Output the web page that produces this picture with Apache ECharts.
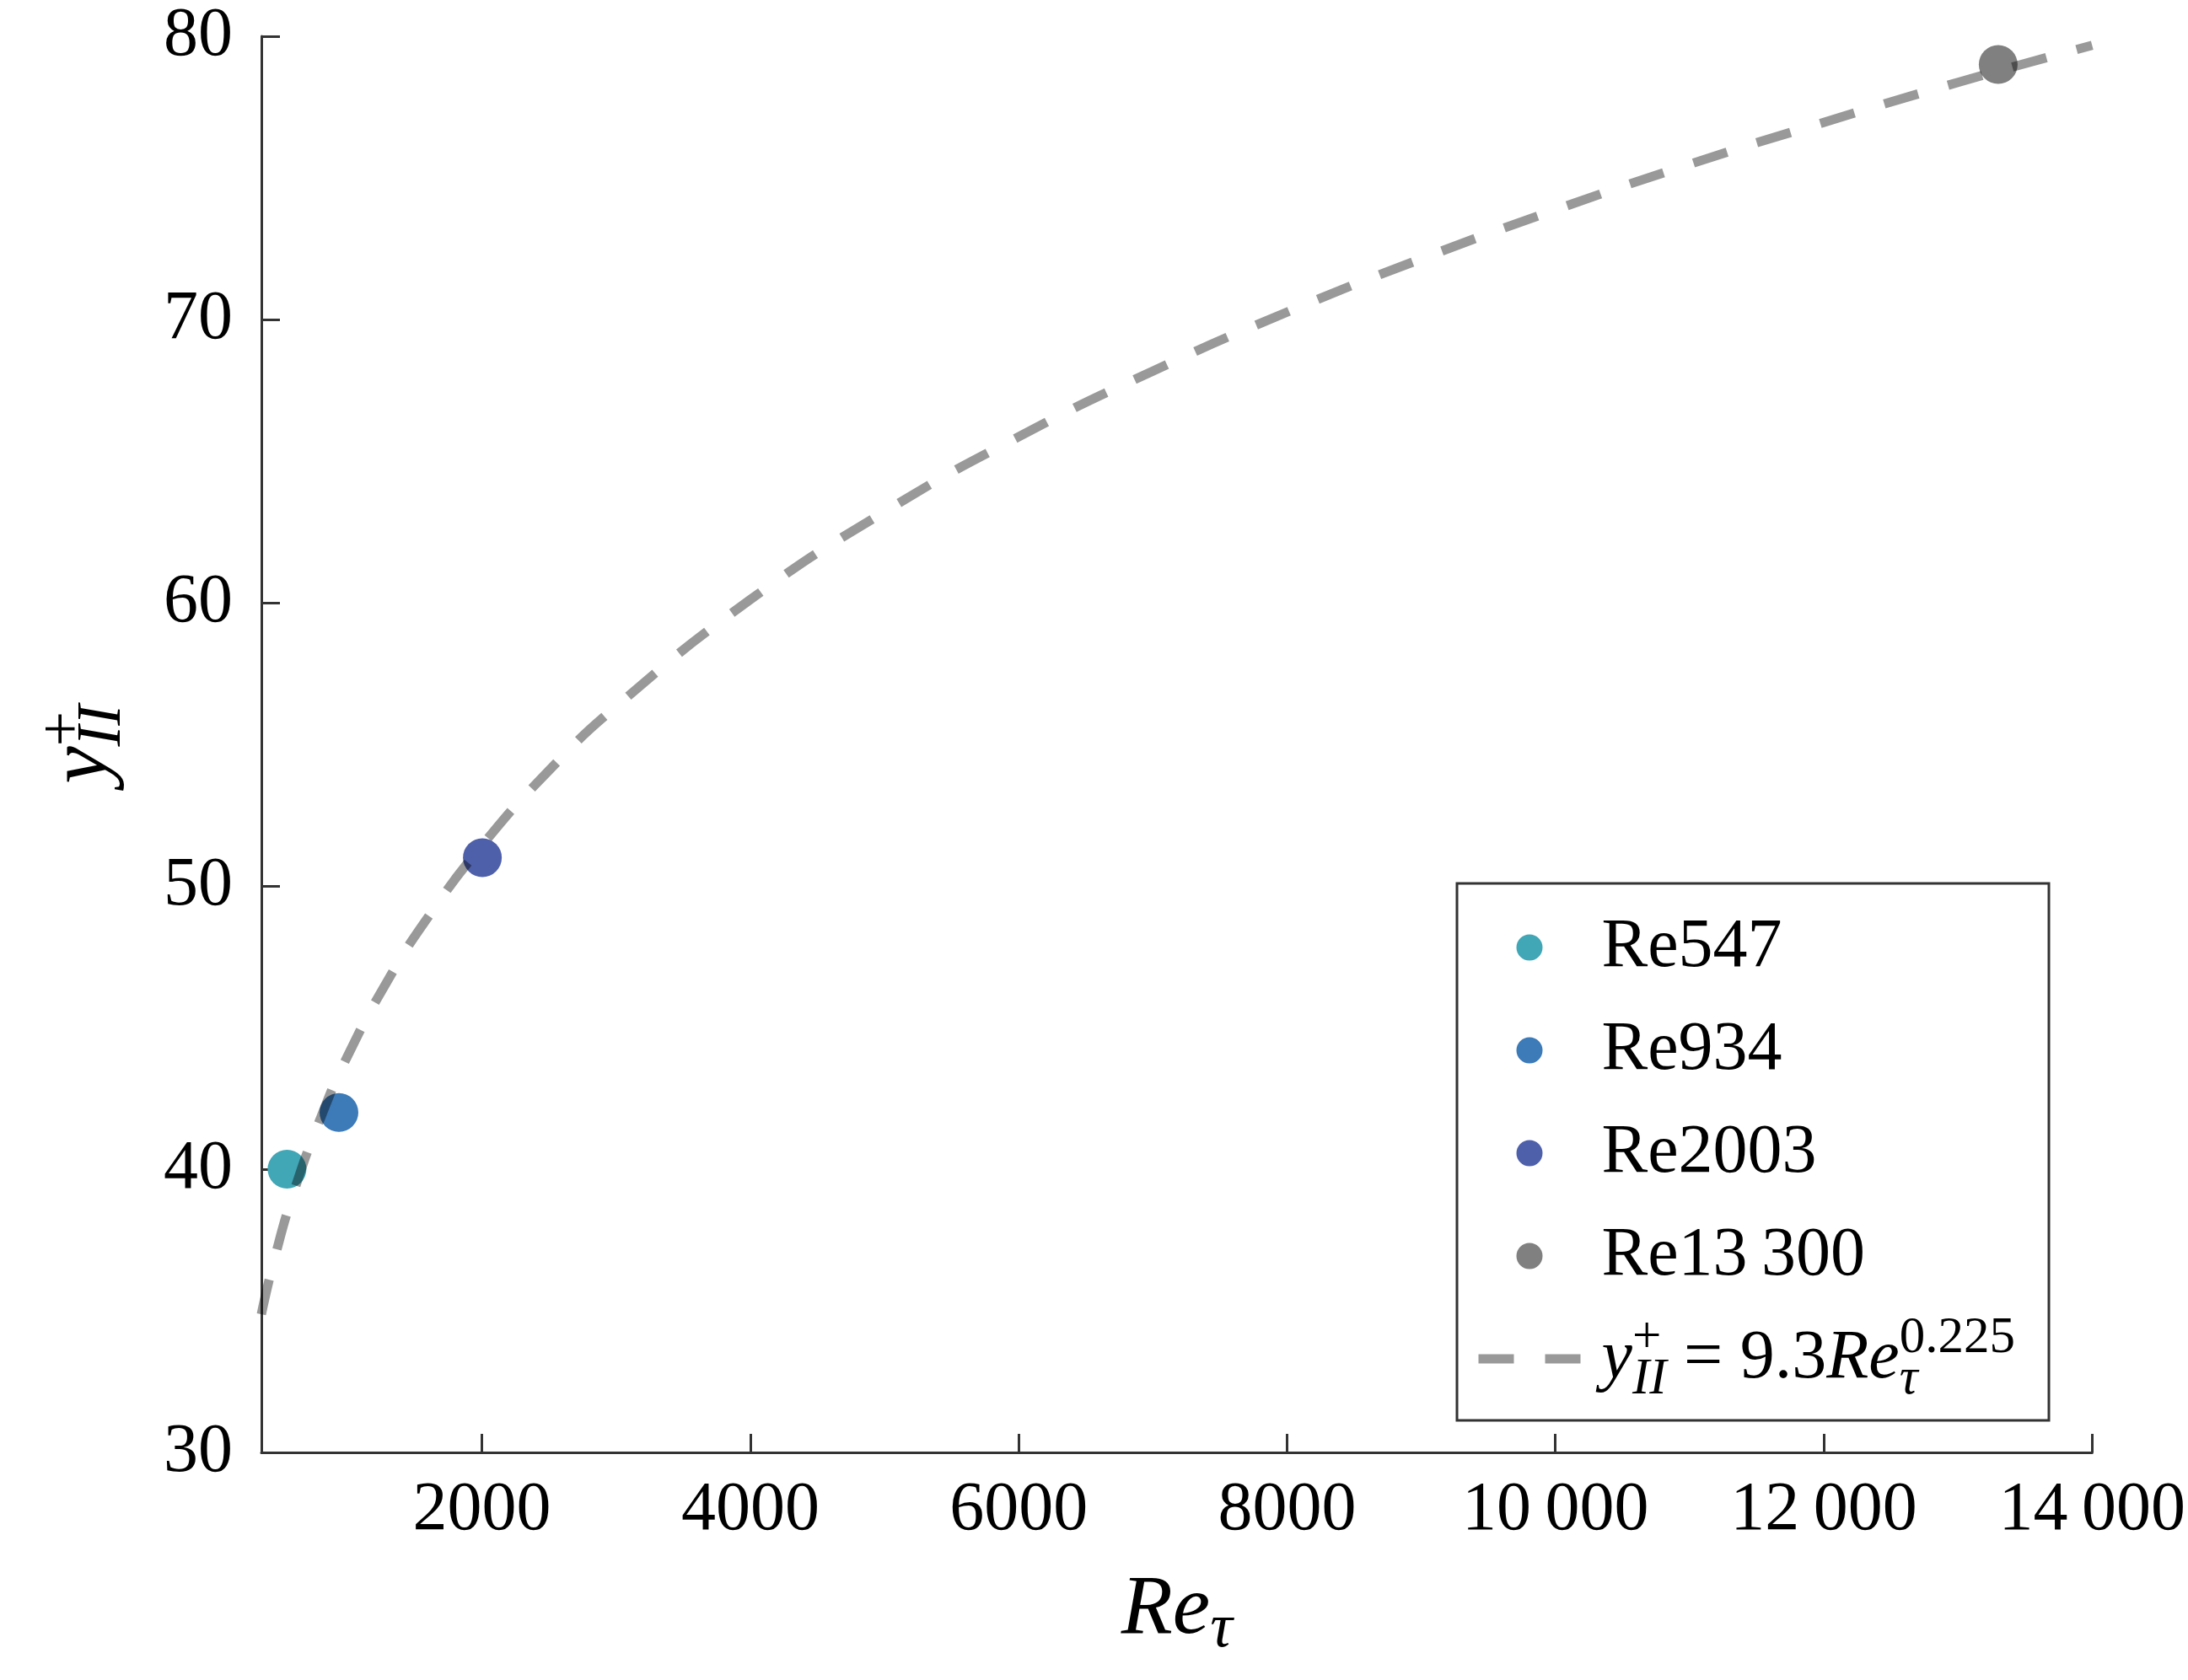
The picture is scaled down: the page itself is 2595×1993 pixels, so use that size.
<!DOCTYPE html>
<html>
<head>
<meta charset="utf-8">
<script src="https://cdn.jsdelivr.net/npm/echarts@6/dist/echarts.min.js"></script>
<style>
  html, body { margin: 0; padding: 0; background: #fff; }
  #chart { width: 2595px; height: 1993px; }
</style>
</head>
<body>
<div id="chart"></div>
<script>
// 各工况名称、颜色与数据
var caseNames = ['Re547', 'Re934', 'Re2003', 'Re13\u2009300'];
var caseColors = ['#41a6b6', '#3c7ab8', '#4f60ab', '#808080'];
var caseRe = [547, 934, 2003, 13300];
var caseY = [40, 42, 51, 79];

// 拟合曲线 y+ = 9.3 Re^0.225
var fitRe = [356, 450, 600, 800, 1000, 1300, 1600, 2000, 2500, 3000, 4000, 5000, 6000, 7000, 8000, 9000, 10000, 11000, 12000, 13000, 14000];
var fitY = [34.88, 36.77, 39.23, 41.84, 44.01, 46.68, 48.91, 51.43, 54.08, 56.34, 60.11, 63.21, 65.86, 68.18, 70.26, 72.14, 73.87, 75.48, 76.96, 78.37, 79.68];

var fitName = 'fit';
var font = 'Liberation Serif';

var chart = echarts.init(document.getElementById('chart'));

// 上下标用的富文本样式
function mathRich(size, lh, off) {
    var s = Math.round(size * 0.74);
    return {
        i: { fontFamily: font, fontStyle: 'italic', fontSize: size, lineHeight: lh, color: '#000', align: 'left' },
        n: { fontFamily: font, fontSize: size, lineHeight: lh, color: '#000', align: 'left' },
        sup: { fontFamily: font, fontSize: s, lineHeight: off, verticalAlign: 'top', width: 0, color: '#000', align: 'left' },
        sub: { fontFamily: font, fontStyle: 'italic', fontSize: s, lineHeight: off, verticalAlign: 'bottom', color: '#000', align: 'left' }
    };
}

var series = [];
caseNames.forEach(function (name, k) {
    series.push({
        name: name,
        type: 'scatter',
        symbol: 'circle',
        symbolSize: 46,
        z: 2,
        itemStyle: { color: caseColors[k], opacity: 1 },
        data: [[caseRe[k], caseY[k]]]
    });
});
series.push({
    name: fitName,
    type: 'line',
    smooth: true,
    showSymbol: false,
    symbol: 'none',
    z: 3,
    lineStyle: { color: 'rgba(0,0,0,0.4)', width: 11, type: [42, 37] },
    itemStyle: { color: 'rgba(0,0,0,0.4)' },
    data: fitRe.map(function (x, k) { return [x, fitY[k]]; })
});

var legendData = caseNames.map(function (n) { return { name: n }; });
legendData.push({
    name: fitName,
    itemStyle: { color: 'transparent', opacity: 0, borderWidth: 0 },
    lineStyle: { color: 'rgba(0,0,0,0.4)', width: 11, type: [42, 37], opacity: 1 }
});

var option = {
    backgroundColor: '#fff',
    animation: false,
    grid: { left: 310, right: 113, top: 43, bottom: 270, containLabel: false },
    xAxis: {
        type: 'value',
        min: 356,
        max: 14000,
        splitNumber: 7,
        name: '{i|Re}{sub|τ}',
        nameLocation: 'middle',
        nameGap: 128,
        nameTextStyle: { rich: mathRich(100, 120, 56) },
        axisLine: { lineStyle: { color: '#333', width: 3 } },
        axisTick: { inside: true, length: 22, lineStyle: { color: '#333', width: 3 } },
        axisLabel: {
            showMinLabel: false,
            margin: 28,
            fontFamily: font,
            fontSize: 82,
            color: '#000',
            formatter: function (v) {
                return v >= 10000 ? String(v).replace(/(\d)(\d{3})$/, '$1\u2009$2') : String(v);
            }
        },
        splitLine: { show: false }
    },
    yAxis: {
        type: 'value',
        min: 30,
        max: 80,
        interval: 10,
        name: '{i|y}{sup|+}{sub|II}',
        nameLocation: 'middle',
        nameGap: 150,
        nameRotate: 90,
        nameTextStyle: { rich: mathRich(100, 120, 56) },
        axisLine: { lineStyle: { color: '#333', width: 3 } },
        axisTick: { inside: true, length: 22, lineStyle: { color: '#333', width: 3 } },
        axisLabel: { margin: 34, fontFamily: font, fontSize: 82, color: '#000' },
        splitLine: { show: false }
    },
    legend: {
        orient: 'vertical',
        left: 1728,
        top: 1048,
        data: legendData,
        itemWidth: 121,
        itemHeight: 31,
        itemGap: 12,
        padding: [21, 40, 18, 20],
        borderColor: '#333',
        borderWidth: 3,
        borderRadius: 0,
        textStyle: {
            fontFamily: font,
            fontSize: 82,
            lineHeight: 110,
            color: '#000',
            padding: [0, 0, 0, 20],
            rich: mathRich(82, 110, 52)
        },
        formatter: function (name) {
            if (name === fitName) {
                return '{i|y}{sup|+}{sub|II}{n| = 9.3}{i|Re}{sup|0.225}{sub|τ}';
            }
            return name;
        }
    },
    series: series
};

chart.setOption(option);
</script>
</body>
</html>
